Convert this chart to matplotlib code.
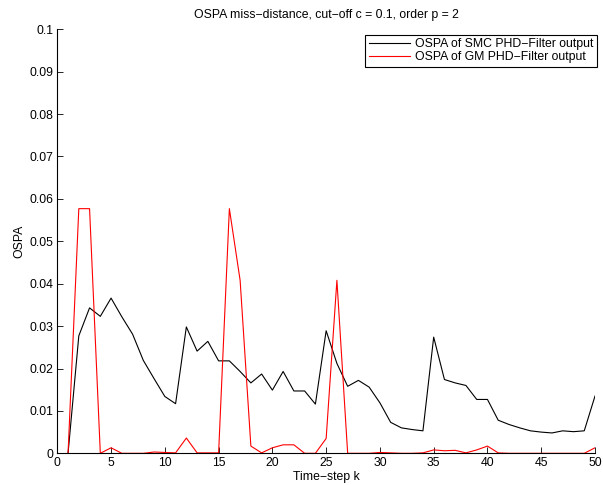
import matplotlib
matplotlib.use("Agg")
import matplotlib.pyplot as plt
from matplotlib.ticker import FixedLocator

plt.rcParams['font.family'] = ['Liberation Sans', 'DejaVu Sans']

steps = list(range(1, 51))
smc_ospa = [0.0, 0.0277, 0.0343, 0.0323, 0.0366, 0.0322, 0.0281, 0.0219, 0.0176, 0.0134,
            0.0117, 0.0298, 0.0241, 0.0264, 0.0218, 0.0218, 0.0193, 0.0166, 0.0187, 0.0149,
            0.0193, 0.0147, 0.0147, 0.0116, 0.0289, 0.0212, 0.0158, 0.0172, 0.0156, 0.0119,
            0.0073, 0.0060, 0.0056, 0.0053, 0.0274, 0.0174, 0.0166, 0.0160, 0.0127, 0.0127,
            0.0078, 0.0068, 0.0060, 0.0053, 0.0050, 0.0048, 0.0053, 0.0051, 0.0053, 0.0135]
gm_ospa = [0.0, 0.0577, 0.0577, 0.0, 0.0013, 0.0, 0.0, 0.0, 0.0003, 0.0002,
           0.0001, 0.0036, 0.0001, 0.0001, 0.0001, 0.0577, 0.0408, 0.0017, 0.0001, 0.0013,
           0.0020, 0.0020, 0.0, 0.0, 0.0035, 0.0408, 0.0, 0.0, 0.0, 0.0002,
           0.0001, 0.0, 0.0, 0.0001, 0.0008, 0.0006, 0.0007, 0.0001, 0.0008, 0.0017,
           0.0001, 0.0, 0.0, 0.0, 0.0, 0.0, 0.0, 0.0, 0.0, 0.0013]
series_labels = ['OSPA of SMC PHD\u2212Filter output', 'OSPA of GM PHD\u2212Filter output']
xticks = [0, 5, 10, 15, 20, 25, 30, 35, 40, 45, 50]
yticks = [0, 0.01, 0.02, 0.03, 0.04, 0.05, 0.06, 0.07, 0.08, 0.09, 0.1]
ytick_labels = ['0', '0.01', '0.02', '0.03', '0.04', '0.05', '0.06', '0.07', '0.08', '0.09', '0.1']

FS = 8.8

fig = plt.figure(figsize=(6.03, 4.86), dpi=100)
ax = fig.add_axes([57.3 / 603, (486 - 453.3) / 486, (595 - 57.3) / 603, (453.3 - 29.3) / 486])

ax.plot(steps, smc_ospa, color='black', lw=0.8, label=series_labels[0])
ax.plot(steps, gm_ospa, color='red', lw=0.8, label=series_labels[1])

ax.set_xlim(0, 50)
ax.set_ylim(0, 0.1)
ax.xaxis.set_major_locator(FixedLocator(xticks))
ax.set_yticks(yticks)
ax.set_yticklabels(ytick_labels)
ax.tick_params(direction='in', length=4, width=0.6, labelsize=FS, colors='black', pad=3)
for s in ['top', 'right']:
    ax.spines[s].set_visible(False)
for s in ['left', 'bottom']:
    ax.spines[s].set_linewidth(0.8)

ax.set_title('OSPA miss\u2212distance, cut\u2212off c = 0.1, order p = 2', fontsize=FS, pad=8)
ax.set_xlabel('Time\u2212step k', fontsize=FS, labelpad=1)
ax.set_ylabel('OSPA', fontsize=FS, labelpad=3)

leg = ax.legend(loc='upper right', bbox_to_anchor=(1.004, 0.987), fontsize=FS, frameon=True,
                fancybox=False, framealpha=1, edgecolor='black', handlelength=3.4,
                handletextpad=0.4, borderpad=0.3, labelspacing=0.08, borderaxespad=0)
leg.get_frame().set_linewidth(0.8)

fig.savefig('out.png', dpi=100)
